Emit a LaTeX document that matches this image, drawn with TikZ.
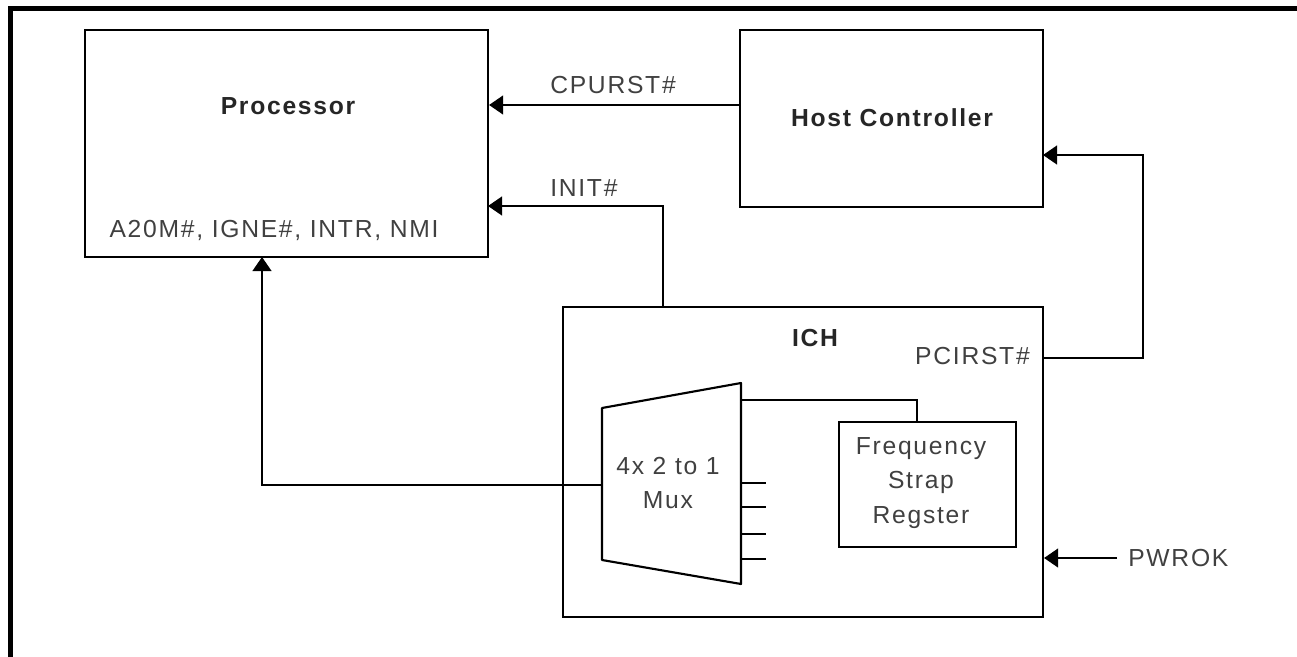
\documentclass[tikz,border=0pt]{standalone}
\usepackage{fontspec}
\setmainfont{Liberation Sans}[LetterSpace=7]
\usepackage{tikz}
\usetikzlibrary{arrows.meta}

\tikzset{
  blk/.style={draw, line width=1.6pt, inner sep=0pt},
  lbl/.style={text=black!75, font=\fontsize{18.5}{26}\selectfont, inner sep=0pt},
  ttl/.style={text=black!85, font=\fontsize{18.5}{26}\selectfont\bfseries, inner sep=0pt},
  sig/.style={line width=1.6pt, -{Triangle[length=10.5pt,width=14pt]}},
  wire/.style={line width=1.6pt}
}

\begin{document}
\begin{tikzpicture}[x=0.75pt,y=0.75pt,yscale=-1,xscale=1]
\useasboundingbox (0,0) rectangle (1297,657);

%Shape: Frame
\draw [line width=3.4pt] (10.5,657) -- (10.5,8.5) -- (1297,8.5) ;

%Shape: Boxes
\node [blk, minimum width=403*0.75pt, minimum height=227*0.75pt] (proc) at (286.5,143.5) {};
\node [blk, minimum width=303*0.75pt, minimum height=177*0.75pt] (host) at (891.5,118.5) {};
\node [blk, minimum width=480*0.75pt, minimum height=310*0.75pt] (ich) at (803,462) {};
\node [blk, minimum width=177*0.75pt, minimum height=125*0.75pt] (freq) at (927.5,484.5) {};

%Shape: Mux
\draw [wire, line join=round] (602,408) -- (741,383) -- (741,584) -- (602,560) -- cycle ;
\foreach \y in {483,507,534,559}
  \draw [wire] (741,\y) -- (766,\y) ;

% Text Node
\node [ttl] (proclbl) at (288,106) {Processor};
\node [ttl] (hostlbl) at (892,118) {Host Controller};
\node [ttl] (ichlbl) at (815,338) {ICH};
\node [lbl] (pinslbl) at (274,230) {A20M\#, IGNE\#, INTR, NMI};
\node [lbl, anchor=west] (cpulbl) at (550,85) {CPURST\#};
\node [lbl, anchor=west] (initlbl) at (550,188) {INIT\#};
\node [lbl, anchor=east] (pcilbl) at (1030,356) {PCIRST\#};
\node [lbl, anchor=west] (pwrlbl) at (1128,558) {PWROK};
\node [lbl, align=center] (muxlbl) at (668,483) {4x 2 to 1\\Mux};
\node [lbl, align=center] (freqlbl) at (921,483) {Frequency\\Strap\\Regster};

%Connection points
\coordinate (cpusrc) at (740,105);
\coordinate (initsrc) at (663,307);
\coordinate (initdst) at (488,206);
\coordinate (muxin) at (602,485);
\coordinate (pinsdst) at (262,257);
\coordinate (pcisrc) at (1043,358);
\coordinate (hostin) at (1043,155);
\coordinate (pwrsrc) at (1117,558);
\coordinate (muxout) at (741,400);
\coordinate (freqin) at (917,422);

%Straight Lines
\draw [sig] (cpusrc) -- (cpusrc -| proc.east) ;
\draw [sig] (initsrc) |- (initdst) ;
\draw [sig] (muxin) -| (pinsdst) ;
\draw [sig] (pcisrc) -- ++(100,0) |- (hostin) ;
\draw [sig] (pwrsrc) -- (pwrsrc -| ich.east) ;
\draw [wire] (muxout) -| (freqin) ;

\end{tikzpicture}
\end{document}
